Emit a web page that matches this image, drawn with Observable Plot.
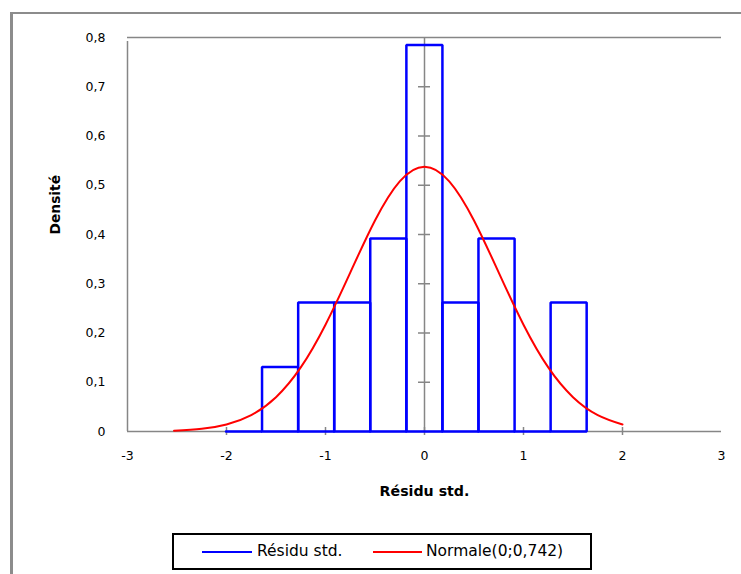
<!DOCTYPE html>
<html>
<head>
<meta charset="utf-8">
<script src="https://cdn.jsdelivr.net/npm/d3@7"></script>
<script src="https://cdn.jsdelivr.net/npm/@observablehq/plot@0.6"></script>
<style>
  html, body { margin: 0; padding: 0; background: #fff; }
  body { width: 741px; height: 574px; position: relative; overflow: hidden; font-family: "DejaVu Sans", sans-serif; }
  #chart { position: absolute; left: 0; top: 0; }
  .frame-top { position: absolute; left: 10px; top: 12px; width: 731px; height: 2px; background: #8c8c8c; }
  .frame-left { position: absolute; left: 10px; top: 12px; width: 3px; height: 562px; background: #8c8c8c; }
  .legend { position: absolute; left: 172px; top: 533px; width: 420px; height: 37px; box-sizing: border-box; border: 2px solid #000; }
  .legend .sw { position: absolute; top: 16px; height: 2px; }
  .legend .lab { position: absolute; top: 7px; font-size: 15.5px; color: #000; white-space: nowrap; }
</style>
</head>
<body>
<div class="frame-top"></div>
<div class="frame-left"></div>
<div id="chart"></div>
<div class="legend" id="legend"></div>
<script>
// Histogram bins (Résidu std.)
const binStart = [-2.005, -1.641, -1.276, -0.912, -0.548, -0.183, 0.181, 0.545, 0.910, 1.274];
const binEnd   = [-1.641, -1.276, -0.912, -0.548, -0.183, 0.181, 0.545, 0.910, 1.274, 1.638];
const density  = [0, 0.131, 0.262, 0.262, 0.392, 0.785, 0.262, 0.392, 0, 0.262];

// Normal curve (Normale(0;0,742))
const curveX = [-2.53, -2.25, -2.0, -1.75, -1.5, -1.25, -1.0, -0.75, -0.5, -0.25, 0, 0.25, 0.5, 0.75, 1.0, 1.25, 1.5, 1.75, 2.0];
const curveY = [0.0016, 0.0054, 0.0142, 0.0333, 0.0697, 0.1301, 0.2169, 0.3226, 0.4285, 0.5080, 0.5377, 0.5080, 0.4285, 0.3226, 0.2169, 0.1301, 0.0697, 0.0333, 0.0142];

const xTicks = [-3, -2, -1, 0, 1, 2, 3];
const yTicks = [0, 0.1, 0.2, 0.3, 0.4, 0.5, 0.6, 0.7, 0.8];

const seriesNames = ["Résidu std.", "Normale(0;0,742)"];
const seriesColors = ["#0000ff", "#ff0000"];

// Build outline polygons of bars
const barPts = [];
binStart.forEach((x1, i) => {
  const x2 = binEnd[i], h = density[i];
  [[x1, 0], [x1, h], [x2, h], [x2, 0], [x1, 0]].forEach(([x, y]) => barPts.push({bin: i, x, y}));
});
const curve = curveX.map((x, i) => ({x, y: curveY[i]}));

const gray = "#868686";
const fmtY = d => d === 0 ? "0" : d.toFixed(1).replace(".", ",");

const chart = Plot.plot({
  width: 741,
  height: 520,
  marginLeft: 127,
  marginRight: 20,
  marginTop: 37,
  marginBottom: 89,
  style: {fontFamily: "DejaVu Sans, sans-serif", fontSize: "12.5px", color: "#000", background: "transparent"},
  x: {domain: [-3, 3]},
  y: {domain: [0, 0.8]},
  marks: [
    Plot.axisX({ticks: xTicks, tickSize: 0, tickPadding: 20, tickFormat: d => String(d), label: null, fontSize: 12.5}),
    Plot.axisY({ticks: yTicks, tickSize: 0, tickPadding: 22, tickFormat: fmtY, label: null, fontSize: 12.5}),
    // plot area lines
    Plot.ruleY([0.8], {x1: -3, x2: 3, stroke: gray, strokeWidth: 1.5}),
    Plot.ruleX([-3], {y1: 0, y2: 0.8, stroke: gray, strokeWidth: 1.5, insetBottom: -4}),
    Plot.ruleY([0], {x1: -3, x2: 3, stroke: gray, strokeWidth: 1.5}),
    Plot.ruleX([0], {y1: 0, y2: 0.8, stroke: gray, strokeWidth: 1.5}),
    // crossing tick marks
    Plot.ruleX(xTicks.slice(1, -1), {x: d => d, y1: 0, y2: 0, insetTop: -4, insetBottom: -4, stroke: gray, strokeWidth: 1.5}),
    Plot.ruleY(yTicks.slice(1, -1), {y: d => d, x1: 0, x2: 0, insetLeft: -6, insetRight: -6, stroke: gray, strokeWidth: 1.5}),
    // histogram
    Plot.line(barPts, {x: "x", y: "y", z: "bin", stroke: seriesColors[0], strokeWidth: 2.5, strokeLinejoin: "miter", curve: "linear"}),
    // normal curve
    Plot.line(curve, {x: "x", y: "y", stroke: seriesColors[1], strokeWidth: 2, curve: "natural"}),
    // axis titles
    Plot.text(["Résidu std."], {frameAnchor: "bottom", dy: 64, text: d => d, fontWeight: "bold", fontSize: 14.2, fill: "#000"}),
    Plot.text(["Densité"], {frameAnchor: "left", dx: -72, rotate: -90, text: d => d, fontWeight: "bold", fontSize: 13.8, fill: "#000"})
  ]
});
document.getElementById("chart").appendChild(chart);

// Legend
const legend = document.getElementById("legend");
const items = [
  {sw: 28, swW: 50, lab: 83},
  {sw: 199, swW: 49, lab: 252}
];
seriesNames.forEach((name, i) => {
  const sw = document.createElement("div");
  sw.className = "sw";
  sw.style.left = items[i].sw + "px";
  sw.style.width = items[i].swW + "px";
  sw.style.background = seriesColors[i];
  legend.appendChild(sw);
  const lab = document.createElement("div");
  lab.className = "lab";
  lab.style.left = items[i].lab + "px";
  lab.textContent = name;
  legend.appendChild(lab);
});
</script>
</body>
</html>
